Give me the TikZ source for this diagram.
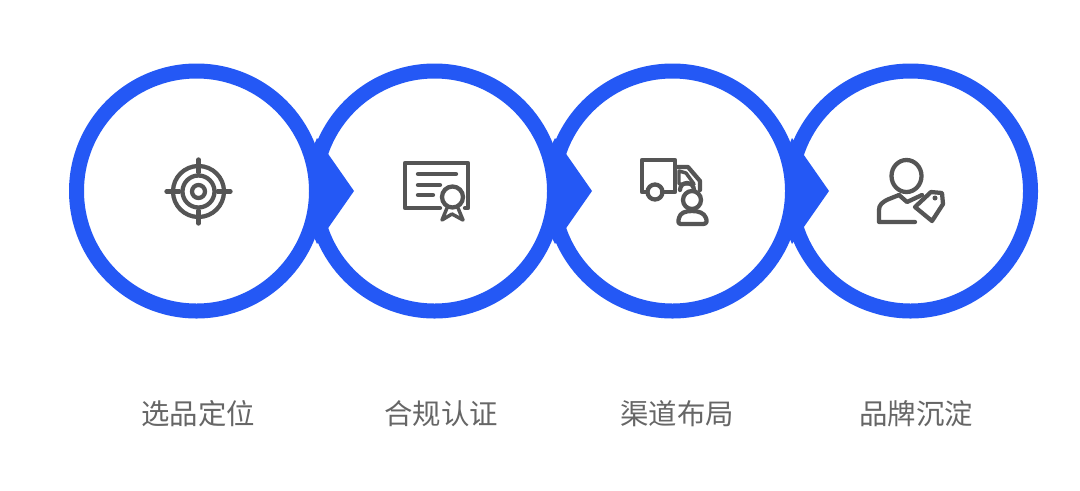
\documentclass[tikz,border=0pt]{standalone}
\usepackage{fontspec}
\newfontfamily\cjk{Noto Sans CJK SC}
\definecolor{ringblue}{HTML}{2458F5}
\definecolor{icongray}{HTML}{555555}
\definecolor{labelgray}{HTML}{666666}
\tikzset{
  ring/.style={circle,draw=ringblue,line width=11.25pt,fill=white,minimum size=180pt,inner sep=0pt,outer sep=0pt},
  pointer/.style={fill=ringblue,draw=none},
  ic/.style={draw=icongray,line width=3.2pt,line cap=round,line join=round},
  icthin/.style={draw=icongray,line width=2.6pt,line cap=round,line join=round},
  steplabel/.style={text=labelgray,font=\cjk\fontsize{21.3}{25}\selectfont,inner sep=0pt}
}
\begin{document}
\begin{tikzpicture}[x=0.75pt,y=-0.75pt]
\useasboundingbox (0,0) rectangle (1080,490);
\fill[white] (0,0) rectangle (1080,490);
\node[ring] (c4) at (910.5,191) {};
\fill[pointer] (792,138) -- (829,191) -- (792,244) -- (770,191) -- cycle;
\node[ring] (c3) at (672.5,191) {};
\fill[pointer] (555,138) -- (592,191) -- (555,244) -- (530,191) -- cycle;
\node[ring] (c2) at (434.5,191) {};
\fill[pointer] (317,138) -- (354,191) -- (317,244) -- (295,191) -- cycle;
\node[ring] (c1) at (196.5,191) {};
% target icon
\begin{scope}[shift={(198.5,191.5)}]
\draw[ic] (0,0) circle (25.5);
\draw[ic] (0,0) circle (16);
\draw[ic] (0,0) circle (6.5);
\draw[ic] (0,-32) -- (0,-19) (0,32) -- (0,19) (-32,0) -- (-19,0) (32,0) -- (19,0);
\end{scope}
% certificate icon
\begin{scope}[shift={(390,140)}]
\draw[ic] (50,68) -- (15,68) -- (15,23) -- (78,23) -- (78,68) -- (75,68);
\draw[ic] (28,34) -- (66,34) (28,45) -- (50,45) (28,55) -- (43,55);
\draw[ic] (62.5,57) circle (10.5);
\draw[icthin] (57,68) -- (52,80) -- (62,74) -- (73,80) -- (68,68);
\end{scope}
% truck and person icon
\begin{scope}[shift={(630,140)}]
\draw[ic] (17,52) -- (12,52) -- (12,20) -- (45,20) -- (45,52) -- (32,52);
\draw[ic] (47,27) -- (58,27) -- (70,41) -- (70,50);
\draw[icthin] (49,31) -- (49,44) -- (64,44) -- (56,33) -- cycle;
\draw[ic] (25,52) circle (7.5);
\draw[ic] (50,50) arc (180:360:7);
\draw[ic,fill=white] (62,60) circle (9);
\draw[ic] (51,84) -- (73,84) .. controls (77,84) and (77,81) .. (76,78) .. controls (74,73) and (69,71) .. (62,71) .. controls (55,71) and (50,73) .. (49,78) .. controls (48,81) and (48,84) .. (51,84) -- cycle;
\end{scope}
% person and tag icon
\begin{scope}[shift={(860,145)}]
\draw[ic] (46.5,31) ellipse (15 and 16);
\draw[ic] (39,50) -- (47,57) -- (62,50);
\draw[ic] (39,50) -- (29,54) .. controls (22,57) and (19,60) .. (19,65) -- (19,77) -- (55,77);
\draw[ic,fill=white] (71,47) -- (82,48) -- (83,59) -- (72,76) -- (55,62) -- cycle;
\fill[icongray] (75,53) circle (2.5);
\end{scope}
\node[steplabel] (t1) at (198,414) {选品定位};
\node[steplabel] (t2) at (441,414) {合规认证};
\node[steplabel] (t3) at (677,414) {渠道布局};
\node[steplabel] (t4) at (916,414) {品牌沉淀};
\end{tikzpicture}
\end{document}
